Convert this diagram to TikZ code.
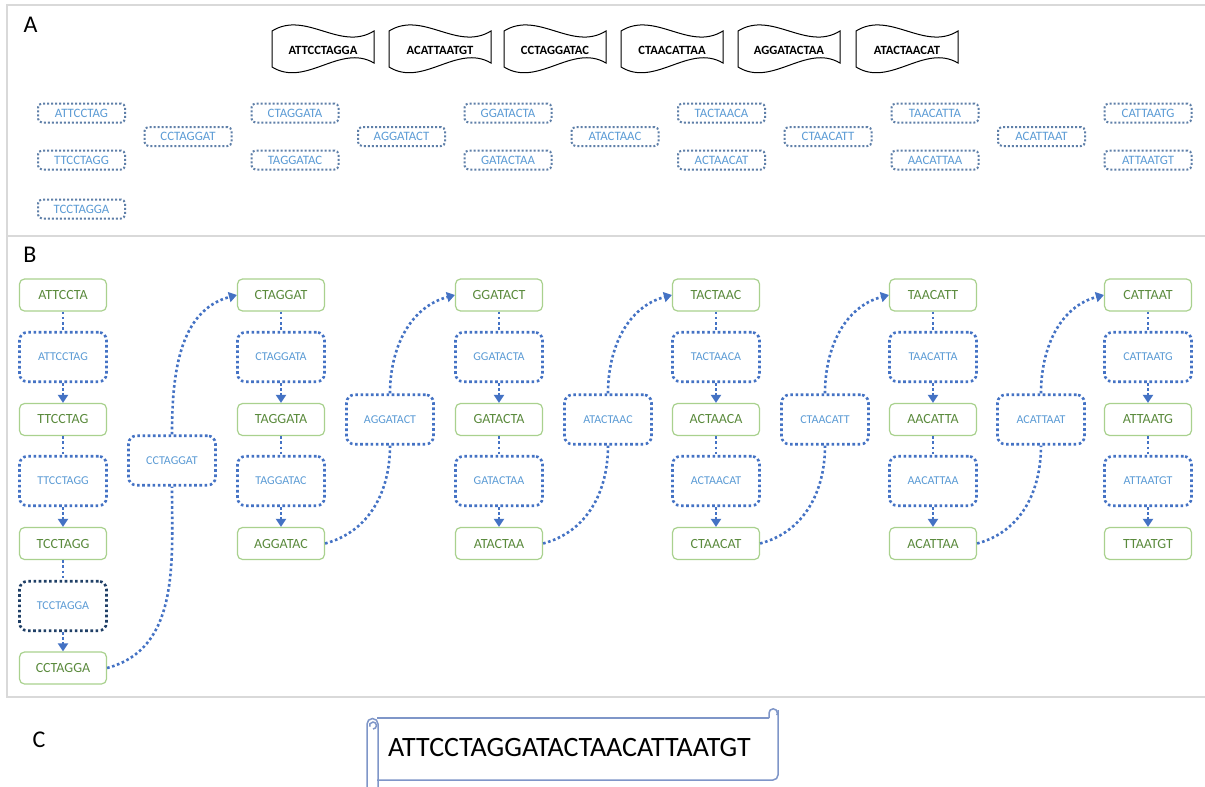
\documentclass[tikz,border=0pt]{standalone}
\usepackage{fontspec}
\setmainfont{Carlito}
\usetikzlibrary{arrows.meta}
\definecolor{gbord}{HTML}{A9D18E}
\definecolor{gtext}{HTML}{5A8A3C}
\definecolor{dblue}{HTML}{4472C4}
\definecolor{ltext}{HTML}{5B9BD5}
\definecolor{abord}{HTML}{5E7FA8}
\definecolor{navy}{HTML}{1F3F66}
\definecolor{panel}{HTML}{D9D9D9}
\definecolor{scrollc}{HTML}{7F96C8}
\begin{document}
\begin{tikzpicture}[x=1pt,y=1pt,
  gbox/.style={draw=gbord, line width=1.2pt, rounded corners=5pt, minimum width=87pt, minimum height=32pt, text=gtext, font=\fontsize{14}{16}\selectfont, inner sep=0pt},
  dbox/.style={draw=dblue, line width=2.6pt, dash pattern=on 2.6pt off 2.6pt, rounded corners=8pt, minimum width=87pt, minimum height=49.5pt, text=ltext, font=\fontsize{12}{14}\selectfont, inner sep=0pt},
  abox/.style={draw=abord, line width=2pt, dash pattern=on 2pt off 2pt, rounded corners=4pt, minimum width=87pt, minimum height=19pt, text=ltext, font=\fontsize{12.8}{14}\selectfont, inner sep=0pt},
  wtext/.style={font=\bfseries\fontsize{12.6}{14}\selectfont, inner sep=0pt},
  wavebox/.style={draw=black, line width=1pt},
  conn/.style={draw=dblue, line width=2.6pt, dash pattern=on 2.6pt off 2.6pt},
  arr/.style={conn, -{Triangle[width=10pt,length=8pt]}},
  panelline/.style={draw=panel, line width=1.2pt},
  lbl/.style={font=\fontsize{24}{26}\selectfont, inner sep=0pt},
  scrollline/.style={draw=scrollc, line width=1.5pt}
]
\useasboundingbox (0,0) rectangle (1205,-787);
\fill[white] (0,0) rectangle (1205,-787);

% panel frames
\draw[panelline] (1206,-5) -- (7,-5) -- (7,-697) -- (1206,-697);
\draw[panelline] (7,-236) -- (1206,-236);

% labels
\node[lbl] (labA) at (30.5,-25) {A};
\node[lbl] (labB) at (30,-254.5) {B};
\node[lbl] (labC) at (39,-740) {C};

% Panel A: wave boxes
\foreach \i/\cx/\t in {1/323/ATTCCTAGGA, 2/440/ACATTAATGT, 3/555/CCTAGGATAC, 4/672/CTAACATTAA, 5/789/AGGATACTAA, 6/907/ATACTAACAT}{
  \draw[wavebox] (\cx-51,-31) .. controls (\cx-17,-10) and (\cx+17,-52) .. (\cx+51,-31)
     -- (\cx+51,-63) .. controls (\cx+17,-43) and (\cx-17,-88) .. (\cx-51,-67) -- cycle;
  \node[wtext] (w\i) at (\cx,-50.3) {\t};
}

% Panel A: dotted boxes
\foreach \n/\x/\y/\t in {1/81.5/113/ATTCCTAG, 2/81.5/160/TTCCTAGG, 3/81.5/209/TCCTAGGA,
  4/188/136.5/CCTAGGAT, 5/295/113/CTAGGATA, 6/295/160/TAGGATAC, 7/401.5/136.5/AGGATACT,
  8/508/113/GGATACTA, 9/508/160/GATACTAA, 10/615/136.5/ATACTAAC, 11/721.5/113/TACTAACA,
  12/721.5/160/ACTAACAT, 13/828/136.5/CTAACATT, 14/935/113/TAACATTA, 15/935/160/AACATTAA,
  16/1041.5/136.5/ACATTAAT, 17/1148/113/CATTAATG, 18/1148/160/ATTAATGT}{
  \node[abox] (a\n) at (\x,-\y) {\t};
}

% Panel B: column 1
\node[gbox] (g1-1) at (63,-295) {ATTCCTA};
\node[dbox] (d1-1) at (63,-357) {ATTCCTAG};
\node[gbox] (g1-2) at (63,-419.5) {TTCCTAG};
\node[dbox] (d1-2) at (63,-481) {TTCCTAGG};
\node[gbox] (g1-3) at (63,-543.5) {TCCTAGG};
\node[dbox, draw=navy] (d1-3) at (63,-606) {TCCTAGGA};
\node[gbox] (g1-4) at (63,-668) {CCTAGGA};
\draw[conn] (g1-1) -- (d1-1);
\draw[arr] (d1-1) -- (g1-2);
\draw[conn] (g1-2) -- (d1-2);
\draw[arr] (d1-2) -- (g1-3);
\draw[conn] (g1-3) -- (d1-3);
\draw[arr] (d1-3) -- (g1-4);

% Panel B: other full columns
\foreach \c/\x/\ga/\da/\gb/\db/\gc in {
  3/281/CTAGGAT/CTAGGATA/TAGGATA/TAGGATAC/AGGATAC,
  5/499/GGATACT/GGATACTA/GATACTA/GATACTAA/ATACTAA,
  7/716/TACTAAC/TACTAACA/ACTAACA/ACTAACAT/CTAACAT,
  9/933/TAACATT/TAACATTA/AACATTA/AACATTAA/ACATTAA,
  11/1148/CATTAAT/CATTAATG/ATTAATG/ATTAATGT/TTAATGT}{
  \node[gbox] (g\c-1) at (\x,-295) {\ga};
  \node[dbox] (d\c-1) at (\x,-357) {\da};
  \node[gbox] (g\c-2) at (\x,-419.5) {\gb};
  \node[dbox] (d\c-2) at (\x,-481) {\db};
  \node[gbox] (g\c-3) at (\x,-543.5) {\gc};
  \draw[conn] (g\c-1) -- (d\c-1);
  \draw[arr] (d\c-1) -- (g\c-2);
  \draw[conn] (g\c-2) -- (d\c-2);
  \draw[arr] (d\c-2) -- (g\c-3);
}

% Panel B: bridging dotted boxes
\node[dbox] (m2) at (172,-460.5) {CCTAGGAT};
\node[dbox] (m4) at (390,-419.5) {AGGATACT};
\node[dbox] (m6) at (608,-419.5) {ATACTAAC};
\node[dbox] (m8) at (825,-419.5) {CTAACATT};
\node[dbox] (m10) at (1041,-419.5) {ACATTAAT};

% bridging connectors
\draw[conn] (g1-4.east) to[out=15,in=-90] (m2.south);
\draw[arr] (m2.north) to[out=90,in=195] (g3-1.west);
\foreach \a/\m/\b in {3/4/5, 5/6/7, 7/8/9, 9/10/11}{
  \draw[conn] (g\a-3.east) to[out=15,in=-90] (m\m.south);
  \draw[arr] (m\m.north) to[out=90,in=195] (g\b-1.west);
}

% Panel C: scroll
\draw[scrollline] (377,-718) -- (769,-718);
\draw[scrollline] (769,-718) -- (769,-713) arc[start angle=180,end angle=-30,radius=4.2];
\draw[scrollline] (778,-710) -- (778,-775) arc[start angle=0,end angle=-90,radius=5] -- (377,-780);
\draw[scrollline] (367,-795) -- (367,-724) arc[start angle=180,end angle=0,radius=5.5] -- (378,-795);
\draw[scrollline] (373,-729) arc[start angle=-90,end angle=200,radius=3.5];
\node[font=\fontsize{28}{32}\selectfont, inner sep=0pt] (seq) at (569.5,-748) {ATTCCTAGGATACTAACATTAATGT};
\end{tikzpicture}
\end{document}
